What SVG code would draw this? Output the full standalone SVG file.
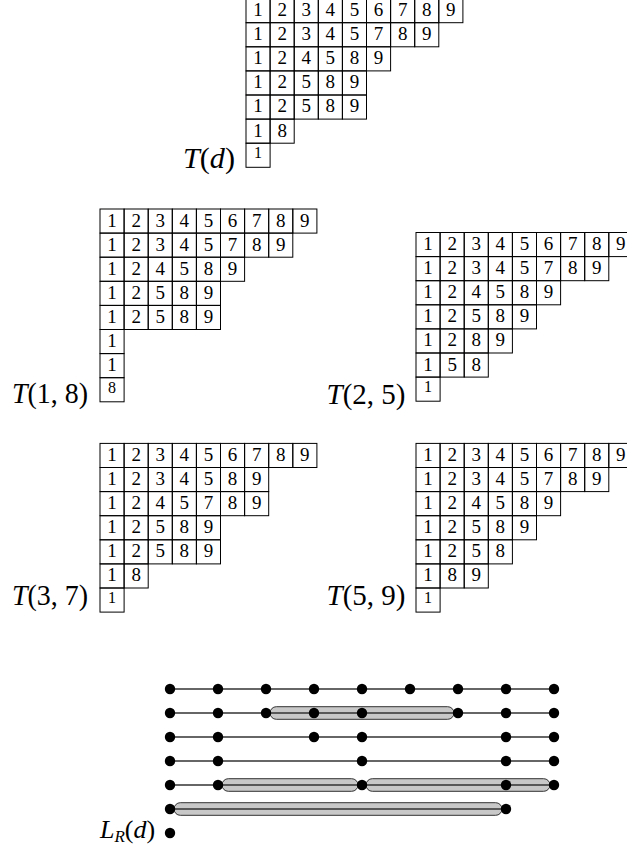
<svg xmlns="http://www.w3.org/2000/svg" xmlns:xlink="http://www.w3.org/1999/xlink" width="627" height="850" viewBox="0 0 627 850">
<style>
.c{fill:none;stroke:#000;stroke-width:1}
.d{font-family:"Liberation Serif",serif;font-size:19px;text-anchor:middle;fill:#000}
.s{font-size:16px}
.lab{font-family:"Liberation Serif",serif;font-size:29px;fill:#000}
.lr{font-size:26px}
.sub{font-size:17px}
.i{font-style:italic}
.cap{fill:#c8c8c8;stroke:#333;stroke-width:1}
.ln{stroke:#333;stroke-width:1.6;fill:none}
.dot{fill:#000}
</style>
<defs><rect id="c" class="c" width="24.1" height="24.1"/></defs>
<rect width="627" height="850" fill="#fff"/>

<g id="Td" transform="translate(246,-1.4)">
<use href="#c" x="0" y="0"/><use href="#c" x="24.1" y="0"/><use href="#c" x="48.2" y="0"/><use href="#c" x="72.3" y="0"/><use href="#c" x="96.4" y="0"/><use href="#c" x="120.5" y="0"/><use href="#c" x="144.6" y="0"/><use href="#c" x="168.7" y="0"/><use href="#c" x="192.8" y="0"/>
<use href="#c" x="0" y="24.1"/><use href="#c" x="24.1" y="24.1"/><use href="#c" x="48.2" y="24.1"/><use href="#c" x="72.3" y="24.1"/><use href="#c" x="96.4" y="24.1"/><use href="#c" x="120.5" y="24.1"/><use href="#c" x="144.6" y="24.1"/><use href="#c" x="168.7" y="24.1"/>
<use href="#c" x="0" y="48.2"/><use href="#c" x="24.1" y="48.2"/><use href="#c" x="48.2" y="48.2"/><use href="#c" x="72.3" y="48.2"/><use href="#c" x="96.4" y="48.2"/><use href="#c" x="120.5" y="48.2"/>
<use href="#c" x="0" y="72.3"/><use href="#c" x="24.1" y="72.3"/><use href="#c" x="48.2" y="72.3"/><use href="#c" x="72.3" y="72.3"/><use href="#c" x="96.4" y="72.3"/>
<use href="#c" x="0" y="96.4"/><use href="#c" x="24.1" y="96.4"/><use href="#c" x="48.2" y="96.4"/><use href="#c" x="72.3" y="96.4"/><use href="#c" x="96.4" y="96.4"/>
<use href="#c" x="0" y="120.5"/><use href="#c" x="24.1" y="120.5"/>
<use href="#c" x="0" y="144.6"/>
<text class="d" x="12.05" y="17.5">1</text><text class="d" x="36.15" y="17.5">2</text><text class="d" x="60.25" y="17.5">3</text><text class="d" x="84.35" y="17.5">4</text><text class="d" x="108.45" y="17.5">5</text><text class="d" x="132.55" y="17.5">6</text><text class="d" x="156.65" y="17.5">7</text><text class="d" x="180.75" y="17.5">8</text><text class="d" x="204.85" y="17.5">9</text>
<text class="d" x="12.05" y="41.6">1</text><text class="d" x="36.15" y="41.6">2</text><text class="d" x="60.25" y="41.6">3</text><text class="d" x="84.35" y="41.6">4</text><text class="d" x="108.45" y="41.6">5</text><text class="d" x="132.55" y="41.6">7</text><text class="d" x="156.65" y="41.6">8</text><text class="d" x="180.75" y="41.6">9</text>
<text class="d" x="12.05" y="65.7">1</text><text class="d" x="36.15" y="65.7">2</text><text class="d" x="60.25" y="65.7">4</text><text class="d" x="84.35" y="65.7">5</text><text class="d" x="108.45" y="65.7">8</text><text class="d" x="132.55" y="65.7">9</text>
<text class="d" x="12.05" y="89.8">1</text><text class="d" x="36.15" y="89.8">2</text><text class="d" x="60.25" y="89.8">5</text><text class="d" x="84.35" y="89.8">8</text><text class="d" x="108.45" y="89.8">9</text>
<text class="d" x="12.05" y="113.9">1</text><text class="d" x="36.15" y="113.9">2</text><text class="d" x="60.25" y="113.9">5</text><text class="d" x="84.35" y="113.9">8</text><text class="d" x="108.45" y="113.9">9</text>
<text class="d" x="12.05" y="138">1</text><text class="d" x="36.15" y="138">8</text>
<text class="d s" x="12.05" y="159.6">1</text>
</g>
<text class="lab" x="183" y="168" textLength="52" lengthAdjust="spacingAndGlyphs"><tspan class="i">T</tspan>(<tspan class="i">d</tspan>)</text>

<g id="T18" transform="translate(100,209)">
<use href="#c" x="0" y="0"/><use href="#c" x="24.1" y="0"/><use href="#c" x="48.2" y="0"/><use href="#c" x="72.3" y="0"/><use href="#c" x="96.4" y="0"/><use href="#c" x="120.5" y="0"/><use href="#c" x="144.6" y="0"/><use href="#c" x="168.7" y="0"/><use href="#c" x="192.8" y="0"/>
<use href="#c" x="0" y="24.1"/><use href="#c" x="24.1" y="24.1"/><use href="#c" x="48.2" y="24.1"/><use href="#c" x="72.3" y="24.1"/><use href="#c" x="96.4" y="24.1"/><use href="#c" x="120.5" y="24.1"/><use href="#c" x="144.6" y="24.1"/><use href="#c" x="168.7" y="24.1"/>
<use href="#c" x="0" y="48.2"/><use href="#c" x="24.1" y="48.2"/><use href="#c" x="48.2" y="48.2"/><use href="#c" x="72.3" y="48.2"/><use href="#c" x="96.4" y="48.2"/><use href="#c" x="120.5" y="48.2"/>
<use href="#c" x="0" y="72.3"/><use href="#c" x="24.1" y="72.3"/><use href="#c" x="48.2" y="72.3"/><use href="#c" x="72.3" y="72.3"/><use href="#c" x="96.4" y="72.3"/>
<use href="#c" x="0" y="96.4"/><use href="#c" x="24.1" y="96.4"/><use href="#c" x="48.2" y="96.4"/><use href="#c" x="72.3" y="96.4"/><use href="#c" x="96.4" y="96.4"/>
<use href="#c" x="0" y="120.5"/>
<use href="#c" x="0" y="144.6"/>
<use href="#c" x="0" y="168.7"/>
<text class="d" x="12.05" y="17.5">1</text><text class="d" x="36.15" y="17.5">2</text><text class="d" x="60.25" y="17.5">3</text><text class="d" x="84.35" y="17.5">4</text><text class="d" x="108.45" y="17.5">5</text><text class="d" x="132.55" y="17.5">6</text><text class="d" x="156.65" y="17.5">7</text><text class="d" x="180.75" y="17.5">8</text><text class="d" x="204.85" y="17.5">9</text>
<text class="d" x="12.05" y="41.6">1</text><text class="d" x="36.15" y="41.6">2</text><text class="d" x="60.25" y="41.6">3</text><text class="d" x="84.35" y="41.6">4</text><text class="d" x="108.45" y="41.6">5</text><text class="d" x="132.55" y="41.6">7</text><text class="d" x="156.65" y="41.6">8</text><text class="d" x="180.75" y="41.6">9</text>
<text class="d" x="12.05" y="65.7">1</text><text class="d" x="36.15" y="65.7">2</text><text class="d" x="60.25" y="65.7">4</text><text class="d" x="84.35" y="65.7">5</text><text class="d" x="108.45" y="65.7">8</text><text class="d" x="132.55" y="65.7">9</text>
<text class="d" x="12.05" y="89.8">1</text><text class="d" x="36.15" y="89.8">2</text><text class="d" x="60.25" y="89.8">5</text><text class="d" x="84.35" y="89.8">8</text><text class="d" x="108.45" y="89.8">9</text>
<text class="d" x="12.05" y="113.9">1</text><text class="d" x="36.15" y="113.9">2</text><text class="d" x="60.25" y="113.9">5</text><text class="d" x="84.35" y="113.9">8</text><text class="d" x="108.45" y="113.9">9</text>
<text class="d" x="12.05" y="138">1</text>
<text class="d" x="12.05" y="162.1">1</text>
<text class="d s" x="12.05" y="183.7">8</text>
</g>
<text class="lab" x="12" y="403" textLength="76" lengthAdjust="spacingAndGlyphs"><tspan class="i">T</tspan>(1, 8)</text>

<g id="T25" transform="translate(416,232.5)">
<use href="#c" x="0" y="0"/><use href="#c" x="24.1" y="0"/><use href="#c" x="48.2" y="0"/><use href="#c" x="72.3" y="0"/><use href="#c" x="96.4" y="0"/><use href="#c" x="120.5" y="0"/><use href="#c" x="144.6" y="0"/><use href="#c" x="168.7" y="0"/><use href="#c" x="192.8" y="0"/>
<use href="#c" x="0" y="24.1"/><use href="#c" x="24.1" y="24.1"/><use href="#c" x="48.2" y="24.1"/><use href="#c" x="72.3" y="24.1"/><use href="#c" x="96.4" y="24.1"/><use href="#c" x="120.5" y="24.1"/><use href="#c" x="144.6" y="24.1"/><use href="#c" x="168.7" y="24.1"/>
<use href="#c" x="0" y="48.2"/><use href="#c" x="24.1" y="48.2"/><use href="#c" x="48.2" y="48.2"/><use href="#c" x="72.3" y="48.2"/><use href="#c" x="96.4" y="48.2"/><use href="#c" x="120.5" y="48.2"/>
<use href="#c" x="0" y="72.3"/><use href="#c" x="24.1" y="72.3"/><use href="#c" x="48.2" y="72.3"/><use href="#c" x="72.3" y="72.3"/><use href="#c" x="96.4" y="72.3"/>
<use href="#c" x="0" y="96.4"/><use href="#c" x="24.1" y="96.4"/><use href="#c" x="48.2" y="96.4"/><use href="#c" x="72.3" y="96.4"/>
<use href="#c" x="0" y="120.5"/><use href="#c" x="24.1" y="120.5"/><use href="#c" x="48.2" y="120.5"/>
<use href="#c" x="0" y="144.6"/>
<text class="d" x="12.05" y="17.5">1</text><text class="d" x="36.15" y="17.5">2</text><text class="d" x="60.25" y="17.5">3</text><text class="d" x="84.35" y="17.5">4</text><text class="d" x="108.45" y="17.5">5</text><text class="d" x="132.55" y="17.5">6</text><text class="d" x="156.65" y="17.5">7</text><text class="d" x="180.75" y="17.5">8</text><text class="d" x="204.85" y="17.5">9</text>
<text class="d" x="12.05" y="41.6">1</text><text class="d" x="36.15" y="41.6">2</text><text class="d" x="60.25" y="41.6">3</text><text class="d" x="84.35" y="41.6">4</text><text class="d" x="108.45" y="41.6">5</text><text class="d" x="132.55" y="41.6">7</text><text class="d" x="156.65" y="41.6">8</text><text class="d" x="180.75" y="41.6">9</text>
<text class="d" x="12.05" y="65.7">1</text><text class="d" x="36.15" y="65.7">2</text><text class="d" x="60.25" y="65.7">4</text><text class="d" x="84.35" y="65.7">5</text><text class="d" x="108.45" y="65.7">8</text><text class="d" x="132.55" y="65.7">9</text>
<text class="d" x="12.05" y="89.8">1</text><text class="d" x="36.15" y="89.8">2</text><text class="d" x="60.25" y="89.8">5</text><text class="d" x="84.35" y="89.8">8</text><text class="d" x="108.45" y="89.8">9</text>
<text class="d" x="12.05" y="113.9">1</text><text class="d" x="36.15" y="113.9">2</text><text class="d" x="60.25" y="113.9">8</text><text class="d" x="84.35" y="113.9">9</text>
<text class="d" x="12.05" y="138">1</text><text class="d" x="36.15" y="138">5</text><text class="d" x="60.25" y="138">8</text>
<text class="d s" x="12.05" y="159.6">1</text>
</g>
<text class="lab" x="326.5" y="404" textLength="79" lengthAdjust="spacingAndGlyphs"><tspan class="i">T</tspan>(2, 5)</text>

<g id="T37" transform="translate(100,443.4)">
<use href="#c" x="0" y="0"/><use href="#c" x="24.1" y="0"/><use href="#c" x="48.2" y="0"/><use href="#c" x="72.3" y="0"/><use href="#c" x="96.4" y="0"/><use href="#c" x="120.5" y="0"/><use href="#c" x="144.6" y="0"/><use href="#c" x="168.7" y="0"/><use href="#c" x="192.8" y="0"/>
<use href="#c" x="0" y="24.1"/><use href="#c" x="24.1" y="24.1"/><use href="#c" x="48.2" y="24.1"/><use href="#c" x="72.3" y="24.1"/><use href="#c" x="96.4" y="24.1"/><use href="#c" x="120.5" y="24.1"/><use href="#c" x="144.6" y="24.1"/>
<use href="#c" x="0" y="48.2"/><use href="#c" x="24.1" y="48.2"/><use href="#c" x="48.2" y="48.2"/><use href="#c" x="72.3" y="48.2"/><use href="#c" x="96.4" y="48.2"/><use href="#c" x="120.5" y="48.2"/><use href="#c" x="144.6" y="48.2"/>
<use href="#c" x="0" y="72.3"/><use href="#c" x="24.1" y="72.3"/><use href="#c" x="48.2" y="72.3"/><use href="#c" x="72.3" y="72.3"/><use href="#c" x="96.4" y="72.3"/>
<use href="#c" x="0" y="96.4"/><use href="#c" x="24.1" y="96.4"/><use href="#c" x="48.2" y="96.4"/><use href="#c" x="72.3" y="96.4"/><use href="#c" x="96.4" y="96.4"/>
<use href="#c" x="0" y="120.5"/><use href="#c" x="24.1" y="120.5"/>
<use href="#c" x="0" y="144.6"/>
<text class="d" x="12.05" y="17.5">1</text><text class="d" x="36.15" y="17.5">2</text><text class="d" x="60.25" y="17.5">3</text><text class="d" x="84.35" y="17.5">4</text><text class="d" x="108.45" y="17.5">5</text><text class="d" x="132.55" y="17.5">6</text><text class="d" x="156.65" y="17.5">7</text><text class="d" x="180.75" y="17.5">8</text><text class="d" x="204.85" y="17.5">9</text>
<text class="d" x="12.05" y="41.6">1</text><text class="d" x="36.15" y="41.6">2</text><text class="d" x="60.25" y="41.6">3</text><text class="d" x="84.35" y="41.6">4</text><text class="d" x="108.45" y="41.6">5</text><text class="d" x="132.55" y="41.6">8</text><text class="d" x="156.65" y="41.6">9</text>
<text class="d" x="12.05" y="65.7">1</text><text class="d" x="36.15" y="65.7">2</text><text class="d" x="60.25" y="65.7">4</text><text class="d" x="84.35" y="65.7">5</text><text class="d" x="108.45" y="65.7">7</text><text class="d" x="132.55" y="65.7">8</text><text class="d" x="156.65" y="65.7">9</text>
<text class="d" x="12.05" y="89.8">1</text><text class="d" x="36.15" y="89.8">2</text><text class="d" x="60.25" y="89.8">5</text><text class="d" x="84.35" y="89.8">8</text><text class="d" x="108.45" y="89.8">9</text>
<text class="d" x="12.05" y="113.9">1</text><text class="d" x="36.15" y="113.9">2</text><text class="d" x="60.25" y="113.9">5</text><text class="d" x="84.35" y="113.9">8</text><text class="d" x="108.45" y="113.9">9</text>
<text class="d" x="12.05" y="138">1</text><text class="d" x="36.15" y="138">8</text>
<text class="d s" x="12.05" y="159.6">1</text>
</g>
<text class="lab" x="12" y="605" textLength="76" lengthAdjust="spacingAndGlyphs"><tspan class="i">T</tspan>(3, 7)</text>

<g id="T59" transform="translate(416,443.4)">
<use href="#c" x="0" y="0"/><use href="#c" x="24.1" y="0"/><use href="#c" x="48.2" y="0"/><use href="#c" x="72.3" y="0"/><use href="#c" x="96.4" y="0"/><use href="#c" x="120.5" y="0"/><use href="#c" x="144.6" y="0"/><use href="#c" x="168.7" y="0"/><use href="#c" x="192.8" y="0"/>
<use href="#c" x="0" y="24.1"/><use href="#c" x="24.1" y="24.1"/><use href="#c" x="48.2" y="24.1"/><use href="#c" x="72.3" y="24.1"/><use href="#c" x="96.4" y="24.1"/><use href="#c" x="120.5" y="24.1"/><use href="#c" x="144.6" y="24.1"/><use href="#c" x="168.7" y="24.1"/>
<use href="#c" x="0" y="48.2"/><use href="#c" x="24.1" y="48.2"/><use href="#c" x="48.2" y="48.2"/><use href="#c" x="72.3" y="48.2"/><use href="#c" x="96.4" y="48.2"/><use href="#c" x="120.5" y="48.2"/>
<use href="#c" x="0" y="72.3"/><use href="#c" x="24.1" y="72.3"/><use href="#c" x="48.2" y="72.3"/><use href="#c" x="72.3" y="72.3"/><use href="#c" x="96.4" y="72.3"/>
<use href="#c" x="0" y="96.4"/><use href="#c" x="24.1" y="96.4"/><use href="#c" x="48.2" y="96.4"/><use href="#c" x="72.3" y="96.4"/>
<use href="#c" x="0" y="120.5"/><use href="#c" x="24.1" y="120.5"/><use href="#c" x="48.2" y="120.5"/>
<use href="#c" x="0" y="144.6"/>
<text class="d" x="12.05" y="17.5">1</text><text class="d" x="36.15" y="17.5">2</text><text class="d" x="60.25" y="17.5">3</text><text class="d" x="84.35" y="17.5">4</text><text class="d" x="108.45" y="17.5">5</text><text class="d" x="132.55" y="17.5">6</text><text class="d" x="156.65" y="17.5">7</text><text class="d" x="180.75" y="17.5">8</text><text class="d" x="204.85" y="17.5">9</text>
<text class="d" x="12.05" y="41.6">1</text><text class="d" x="36.15" y="41.6">2</text><text class="d" x="60.25" y="41.6">3</text><text class="d" x="84.35" y="41.6">4</text><text class="d" x="108.45" y="41.6">5</text><text class="d" x="132.55" y="41.6">7</text><text class="d" x="156.65" y="41.6">8</text><text class="d" x="180.75" y="41.6">9</text>
<text class="d" x="12.05" y="65.7">1</text><text class="d" x="36.15" y="65.7">2</text><text class="d" x="60.25" y="65.7">4</text><text class="d" x="84.35" y="65.7">5</text><text class="d" x="108.45" y="65.7">8</text><text class="d" x="132.55" y="65.7">9</text>
<text class="d" x="12.05" y="89.8">1</text><text class="d" x="36.15" y="89.8">2</text><text class="d" x="60.25" y="89.8">5</text><text class="d" x="84.35" y="89.8">8</text><text class="d" x="108.45" y="89.8">9</text>
<text class="d" x="12.05" y="113.9">1</text><text class="d" x="36.15" y="113.9">2</text><text class="d" x="60.25" y="113.9">5</text><text class="d" x="84.35" y="113.9">8</text>
<text class="d" x="12.05" y="138">1</text><text class="d" x="36.15" y="138">8</text><text class="d" x="60.25" y="138">9</text>
<text class="d s" x="12.05" y="159.6">1</text>
</g>
<text class="lab" x="326.5" y="605" textLength="79" lengthAdjust="spacingAndGlyphs"><tspan class="i">T</tspan>(5, 9)</text>

<g id="LR">
<g id="capsules">
<rect class="cap" x="270" y="706.7" width="184" height="12.6" rx="6.3"/>
<rect class="cap" x="222" y="778.7" width="136" height="12.6" rx="6.3"/>
<rect class="cap" x="366" y="778.7" width="184" height="12.6" rx="6.3"/>
<rect class="cap" x="174" y="802.7" width="328" height="12.6" rx="6.3"/>
</g>
<g id="connectors">
<line class="ln" x1="170" y1="689" x2="554" y2="689"/>
<line class="ln" x1="170" y1="713" x2="554" y2="713"/>
<line class="ln" x1="170" y1="737" x2="554" y2="737"/>
<line class="ln" x1="170" y1="761" x2="554" y2="761"/>
<line class="ln" x1="170" y1="785" x2="554" y2="785"/>
<line class="ln" x1="170" y1="809" x2="506" y2="809"/>
</g>
<g id="row1" class="dot"><circle cx="170" cy="689" r="5.2"/><circle cx="218" cy="689" r="5.2"/><circle cx="266" cy="689" r="5.2"/><circle cx="314" cy="689" r="5.2"/><circle cx="362" cy="689" r="5.2"/><circle cx="410" cy="689" r="5.2"/><circle cx="458" cy="689" r="5.2"/><circle cx="506" cy="689" r="5.2"/><circle cx="554" cy="689" r="5.2"/></g>
<g id="row2" class="dot"><circle cx="170" cy="713" r="5.2"/><circle cx="218" cy="713" r="5.2"/><circle cx="266" cy="713" r="5.2"/><circle cx="314" cy="713" r="5.2"/><circle cx="362" cy="713" r="5.2"/><circle cx="458" cy="713" r="5.2"/><circle cx="506" cy="713" r="5.2"/><circle cx="554" cy="713" r="5.2"/></g>
<g id="row3" class="dot"><circle cx="170" cy="737" r="5.2"/><circle cx="218" cy="737" r="5.2"/><circle cx="314" cy="737" r="5.2"/><circle cx="362" cy="737" r="5.2"/><circle cx="506" cy="737" r="5.2"/><circle cx="554" cy="737" r="5.2"/></g>
<g id="row4" class="dot"><circle cx="170" cy="761" r="5.2"/><circle cx="218" cy="761" r="5.2"/><circle cx="362" cy="761" r="5.2"/><circle cx="506" cy="761" r="5.2"/><circle cx="554" cy="761" r="5.2"/></g>
<g id="row5" class="dot"><circle cx="170" cy="785" r="5.2"/><circle cx="218" cy="785" r="5.2"/><circle cx="362" cy="785" r="5.2"/><circle cx="506" cy="785" r="5.2"/><circle cx="554" cy="785" r="5.2"/></g>
<g id="row6" class="dot"><circle cx="170" cy="809" r="5.2"/><circle cx="506" cy="809" r="5.2"/></g>
<g id="row7" class="dot"><circle cx="170" cy="833" r="5.2"/></g>
</g>
<text class="lab lr" x="100" y="838"><tspan class="i">L</tspan><tspan class="i sub" dy="4">R</tspan><tspan dy="-4">(</tspan><tspan class="i">d</tspan>)</text>
</svg>
